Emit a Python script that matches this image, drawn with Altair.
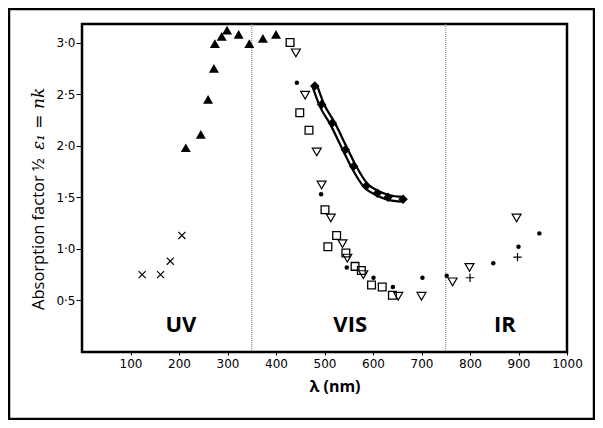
import altair as alt
import pandas as pd

# ---- data ----
uv_x = [214, 245, 260, 272, 274, 288, 299, 323, 345, 373, 400]
uv_y = [1.98, 2.11, 2.45, 2.75, 2.99, 3.06, 3.12, 3.08, 2.99, 3.04, 3.08]

cross_x = [124, 162, 182, 206]
cross_y = [0.75, 0.75, 0.88, 1.13]

sq_x = [429, 449, 468, 501, 507, 525, 544, 563, 576, 597, 619, 640]
sq_y = [3.0, 2.32, 2.15, 1.38, 1.02, 1.13, 0.96, 0.83, 0.79, 0.65, 0.63, 0.55]

tri_x = [441, 460, 484, 494, 513, 537, 547, 580, 652, 700, 764, 799, 896]
tri_y = [2.90, 2.49, 1.94, 1.62, 1.30, 1.05, 0.91, 0.75, 0.54, 0.54, 0.68, 0.82, 1.30]

dot_x = [443, 493, 546, 601, 641, 702, 752, 848, 900, 943]
dot_y = [2.61, 1.53, 0.82, 0.72, 0.63, 0.72, 0.74, 0.86, 1.02, 1.15]

plus_x = [800, 898]
plus_y = [0.72, 0.92]

dia_x = [480, 494, 516, 543, 560, 586, 609, 631, 662]
dia_y = [2.58, 2.40, 2.22, 1.96, 1.80, 1.61, 1.54, 1.50, 1.48]

dividers = [350, 750]
regions = ["UV", "VIS", "IR"]
region_x = [204, 553, 872]
region_y = [0.26, 0.26, 0.26]

x_ticks = [100, 200, 300, 400, 500, 600, 700, 800, 900, 1000]
y_ticks = [0.5, 1.0, 1.5, 2.0, 2.5, 3.0]

W, H = 485, 328

X = alt.X("x:Q", scale=alt.Scale(domain=[0, 1000], nice=False, zero=False),
          axis=alt.Axis(values=x_ticks, format="d", title=None, grid=False, domain=False,
                        tickSize=3, tickColor="black", labelPadding=3,
                        labelFont="DejaVu Sans", labelFontSize=12, labelColor="black",
                        labelFlush=False))
Y = alt.Y("y:Q", scale=alt.Scale(domain=[0, 3.18], nice=False, zero=False),
          axis=alt.Axis(values=y_ticks, title=None, grid=False, domain=False,
                        tickSize=6, tickColor="black", labelPadding=1,
                        labelFont="DejaVu Sans", labelFontSize=12, labelColor="black",
                        labelExpr="replace(format(datum.value, '.1f'), '.', '·')"))


def df(xs, ys):
    return pd.DataFrame({"x": xs, "y": ys})


rules = alt.Chart(pd.DataFrame({"x": dividers})).mark_rule(
    color="#777777", strokeDash=[1, 1], strokeWidth=1).encode(x=X)

uv = alt.Chart(df(uv_x, uv_y)).mark_point(
    shape="triangle-up", filled=True, color="black", size=100, opacity=1).encode(x=X, y=Y)

cross = alt.Chart(df(cross_x, cross_y)).mark_point(
    shape="M-1,-1L1,1M-1,1L1,-1", filled=False, color="black", strokeWidth=1.2,
    size=50, opacity=1).encode(x=X, y=Y)

sq = alt.Chart(df(sq_x, sq_y)).mark_point(
    shape="square", filled=False, color="black", strokeWidth=1.3, size=60,
    opacity=1).encode(x=X, y=Y)

tri = alt.Chart(df(tri_x, tri_y)).mark_point(
    shape="triangle-down", filled=False, color="black", strokeWidth=1.2, size=80,
    opacity=1).encode(x=X, y=Y)

dots = alt.Chart(df(dot_x, dot_y)).mark_point(
    shape="circle", filled=True, color="black", size=20, opacity=1).encode(x=X, y=Y)

plus = alt.Chart(df(plus_x, plus_y)).mark_point(
    shape="M-1,0L1,0M0,-1L0,1", filled=False, color="black", strokeWidth=1.2,
    size=70, opacity=1).encode(x=X, y=Y)

line_outer = alt.Chart(df(dia_x, dia_y)).mark_line(
    interpolate="monotone", color="black", strokeWidth=7).encode(x=X, y=Y)
line_inner = alt.Chart(df(dia_x, dia_y)).mark_line(
    interpolate="monotone", color="white", strokeWidth=2.5).encode(x=X, y=Y)
dia = alt.Chart(df(dia_x, dia_y)).mark_point(
    shape="diamond", filled=True, color="black", size=90, opacity=1).encode(x=X, y=Y)

labels = alt.Chart(pd.DataFrame({"x": region_x, "y": region_y, "t": regions})).mark_text(
    font="Open Sans", fontSize=22, fontWeight="bold", color="black",
    baseline="middle", align="center").encode(x=X, y=Y, text="t:N")

ytitle1 = alt.Chart(pd.DataFrame({"t": ["Absorption factor ½"]})).mark_text(
    font="Open Sans", fontSize=16.5, color="black", angle=270, align="left",
    baseline="middle").encode(x=alt.value(-43), y=alt.value(286), text="t:N")
ytitle2 = alt.Chart(pd.DataFrame({"t": ["ε₁ = nk"]})).mark_text(
    font="DejaVu Serif", fontSize=17, fontStyle="italic", color="black", angle=270,
    align="left", baseline="middle").encode(x=alt.value(-43), y=alt.value(126), text="t:N")

xtitle = alt.Chart(pd.DataFrame({"t": ["λ (nm)"]})).mark_text(
    font="Open Sans", fontSize=16, fontWeight="bold", color="black",
    align="center", baseline="middle").encode(x=alt.value(253), y=alt.value(363), text="t:N")

border = alt.Chart(pd.DataFrame({"a": [0]})).mark_rect(
    filled=False, fill=None, stroke="black", strokeWidth=2.5).encode(
    x=alt.value(-73), x2=alt.value(512), y=alt.value(-15), y2=alt.value(395))

chart = alt.layer(
    rules, line_outer, line_inner, uv, cross, sq, tri, dots, plus, dia,
    labels, ytitle1, ytitle2, xtitle, border
).properties(
    width=W, height=H,
    autosize=alt.AutoSizeParams(type="none"),
    padding={"left": 74, "top": 16, "right": 28, "bottom": 68},
).configure(
    background="white",
    view=alt.ViewConfig(stroke="black", strokeWidth=2.5),
)

chart.save("out.html", embed_options={"renderer": "svg", "actions": False})
